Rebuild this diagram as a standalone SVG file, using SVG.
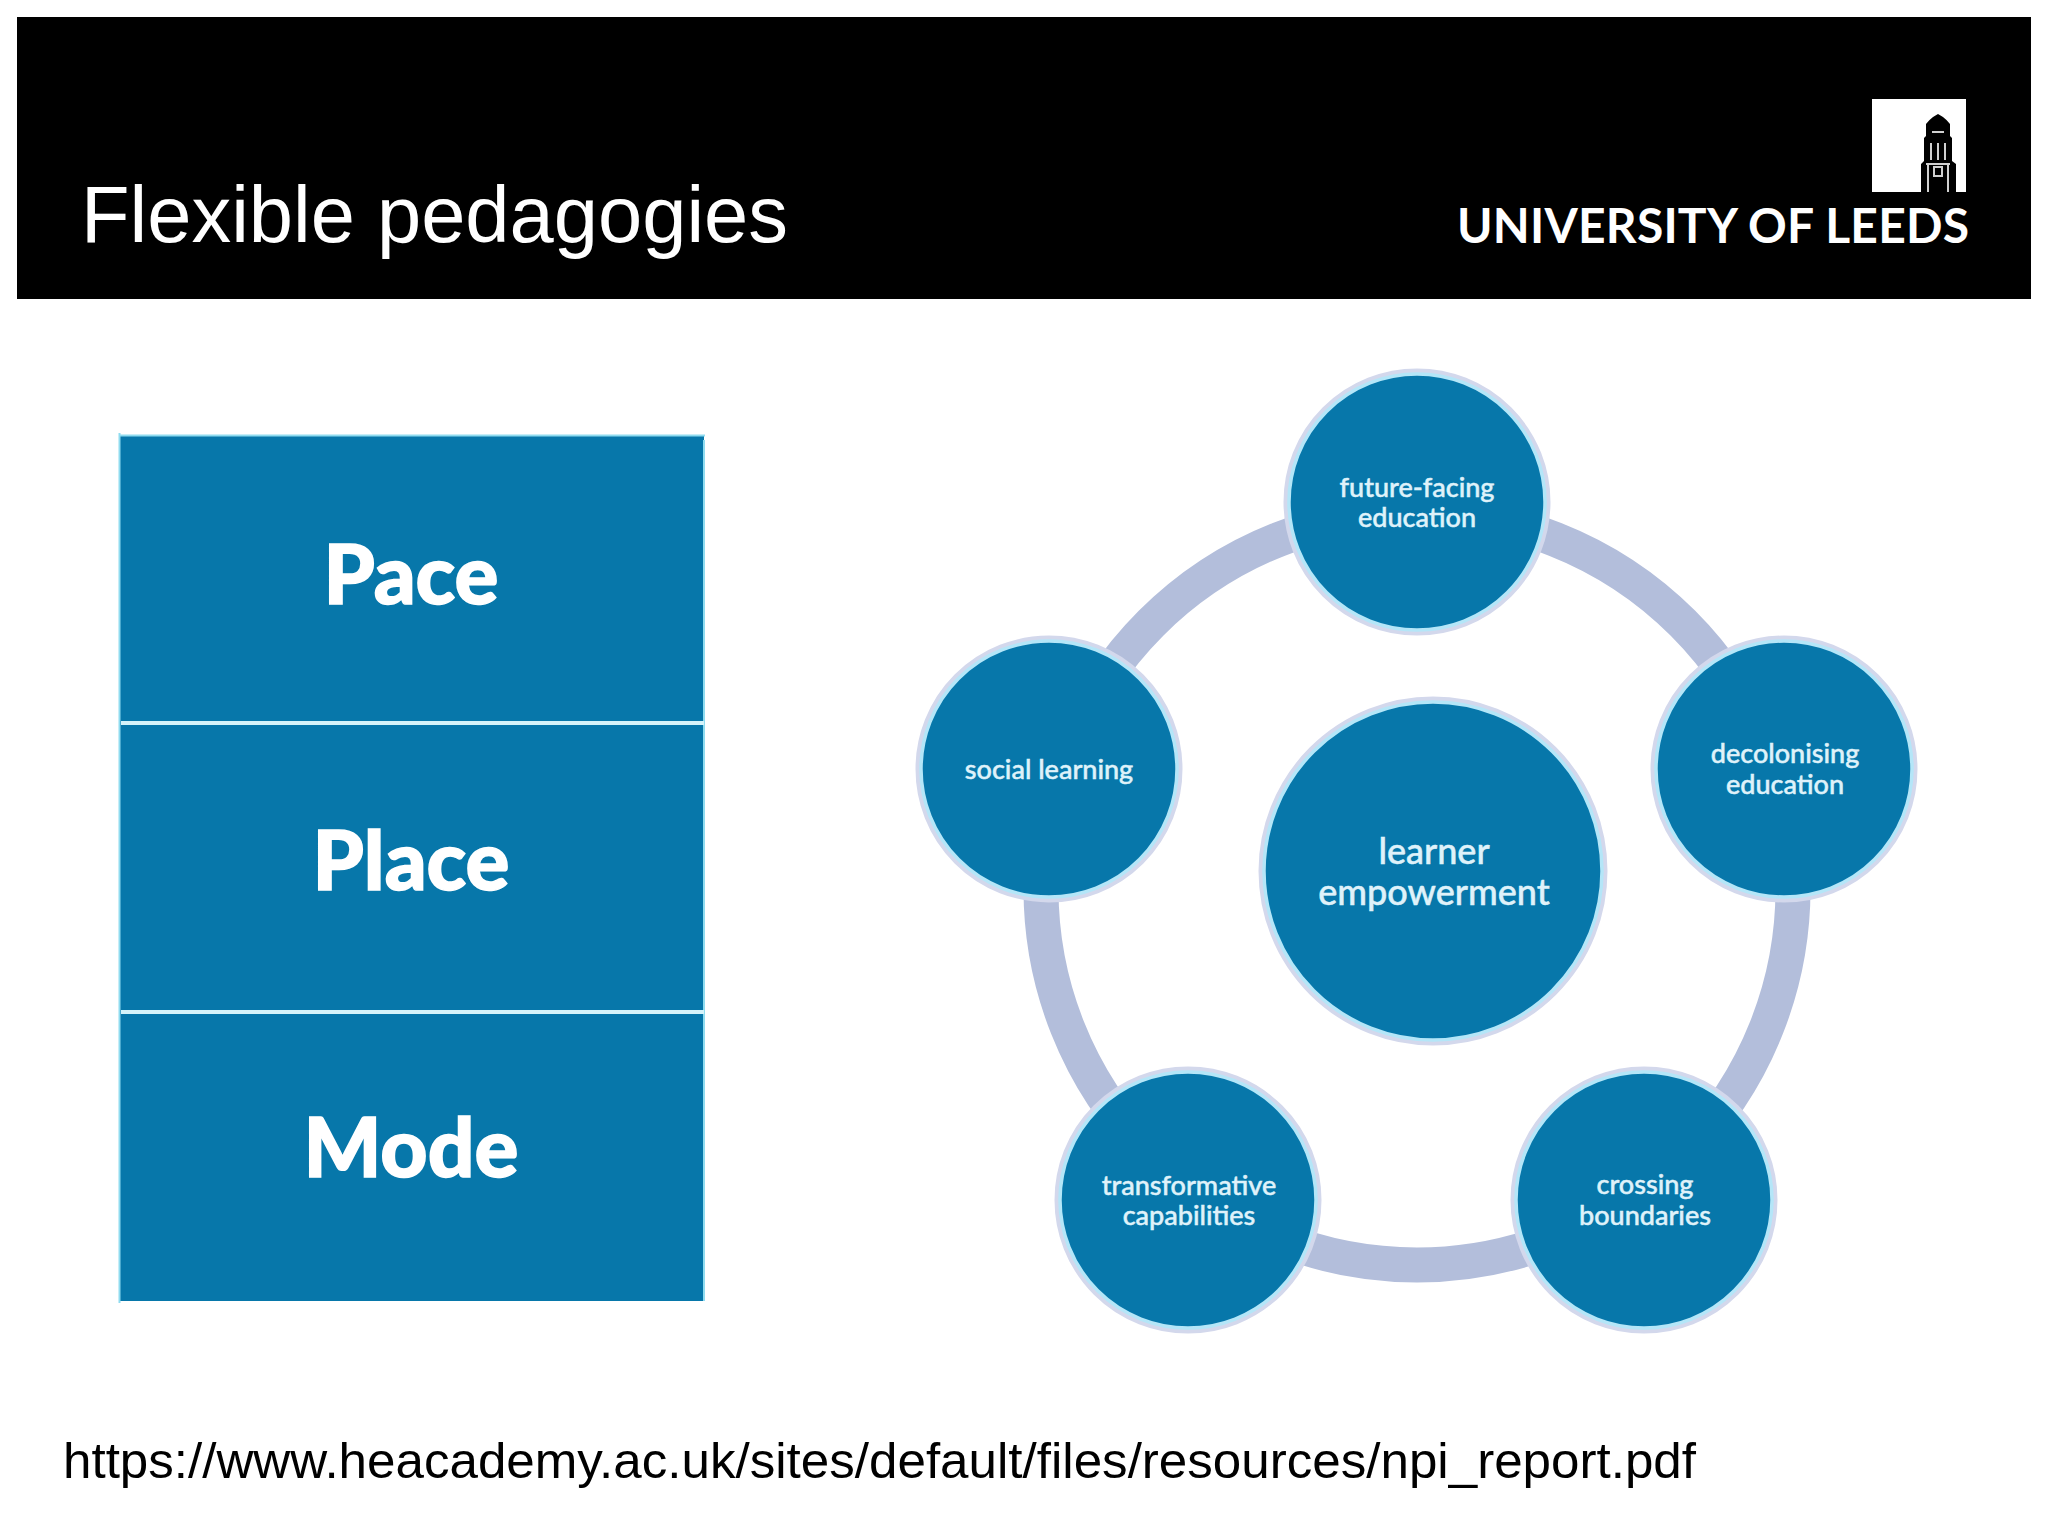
<svg xmlns="http://www.w3.org/2000/svg" width="2048" height="1536" viewBox="0 0 2048 1536">
<style>
.sans{font-family:"Liberation Sans",Arial,sans-serif;fill:#fff}
.lab{font-family:"Lato","Open Sans",sans-serif;fill:#dff2fa;stroke:#dff2fa;stroke-width:.5;text-anchor:middle;font-weight:500}
.big{font-family:"Lato","Open Sans",sans-serif;fill:#fff;text-anchor:middle;font-weight:900;font-size:82px;stroke:#fff;stroke-width:1.500}
.halo{fill:none;stroke:#d3d8ec;stroke-width:5}
.disc{fill:#0777aa;stroke:#b4e6f8;stroke-width:3.500}
.s{font-size:27px}
</style>
<rect width="2048" height="1536" fill="#fff"/>
<g id="header">
<rect x="17" y="17" width="2014" height="282" fill="#000"/>
<text class="sans" x="81" y="242" font-size="80" textLength="707" lengthAdjust="spacingAndGlyphs">Flexible pedagogies</text>
<g id="logo">
<rect x="1872" y="99" width="94" height="93" fill="#fff"/>
<path d="M1921 192V164L1924 161V138L1926 136V124Q1929 120 1933 117L1938 114L1943 117Q1947 120 1950 124V136L1952 138V161L1956 164V192Z" fill="#000"/>
<path d="M1931 143V160M1938 143V160M1945 143V160M1932 132H1944M1926 164H1950M1928 165V192M1948 165V192" stroke="#d0d0d0" stroke-width="2" fill="none"/>
<rect x="1934" y="167" width="8" height="9" fill="none" stroke="#d0d0d0" stroke-width="2"/>
<text x="1457" y="243" font-family="Lato,'Open Sans',sans-serif" font-weight="700" font-size="48" fill="#fff" textLength="512" lengthAdjust="spacing">UNIVERSITY OF LEEDS</text>
</g>
</g>
<g id="table">
<rect x="119" y="436" width="585" height="865" fill="#0777aa"/>
<path d="M119.500 433V1303M704 440V1301M119 435.500H705" stroke="#8fdcf0" stroke-width="2" fill="none"/>
<path d="M121 723H704M121 1012H704" stroke="#d5f3fa" stroke-width="4" fill="none"/>
<text class="big" x="411" y="604">Pace</text>
<text class="big" x="411" y="890">Place</text>
<text class="big" x="411" y="1177">Mode</text>
</g>
<g id="connectors">
<circle cx="1417" cy="889" r="376" fill="none" stroke="#b3bedb" stroke-width="35"/>
</g>
<g id="node-top"><circle class="halo" cx="1417" cy="502" r="131"/><circle class="disc" cx="1417" cy="502" r="128"/>
<text class="lab s" x="1417" y="497">future-facing</text><text class="lab s" x="1417" y="527">education</text></g>
<g id="node-right"><circle class="halo" cx="1784" cy="769" r="131"/><circle class="disc" cx="1784" cy="769" r="128"/>
<text class="lab s" x="1785" y="763">decolonising</text><text class="lab s" x="1785" y="794">education</text></g>
<g id="node-bottom-right"><circle class="halo" cx="1644" cy="1200" r="131"/><circle class="disc" cx="1644" cy="1200" r="128"/>
<text class="lab s" x="1645" y="1194">crossing</text><text class="lab s" x="1645" y="1225">boundaries</text></g>
<g id="node-bottom-left"><circle class="halo" cx="1188" cy="1200" r="131"/><circle class="disc" cx="1188" cy="1200" r="128"/>
<text class="lab s" x="1189" y="1195">transformative</text><text class="lab s" x="1189" y="1225">capabilities</text></g>
<g id="node-left"><circle class="halo" cx="1049" cy="769" r="131"/><circle class="disc" cx="1049" cy="769" r="128"/>
<text class="lab s" x="1049" y="779">social learning</text></g>
<g id="node-center"><circle class="halo" cx="1433" cy="871" r="172"/><circle class="disc" cx="1433" cy="871" r="169"/>
<text class="lab" font-size="36" x="1434" y="864">learner</text><text class="lab" font-size="36" x="1434" y="905">empowerment</text></g>
<text id="source" x="63" y="1478" font-family="'Liberation Sans',Arial,sans-serif" font-size="50" fill="#000" textLength="1633" lengthAdjust="spacingAndGlyphs">https://www.heacademy.ac.uk/sites/default/files/resources/npi_report.pdf</text>
</svg>
